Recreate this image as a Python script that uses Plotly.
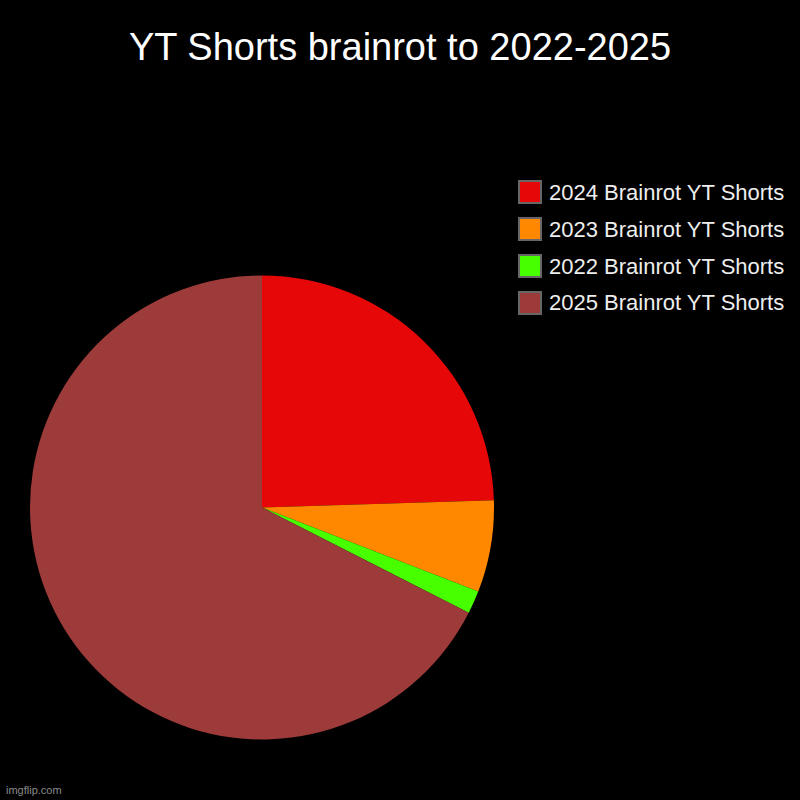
import plotly.graph_objects as go

# data (percent of the pie)
labels = ['2024 Brainrot YT Shorts', '2023 Brainrot YT Shorts',
          '2022 Brainrot YT Shorts', '2025 Brainrot YT Shorts']
values = [24.5, 6.4, 1.6, 67.5]
colors = ['#e60808', '#ff8800', '#48ff00', '#9d3a3a']

W, H = 800, 800


def px(x):
    return x / W


def py(y):
    return 1 - y / H


fig = go.Figure(go.Pie(
    labels=labels,
    values=values,
    marker=dict(colors=colors, line=dict(width=0)),
    sort=False,
    direction='clockwise',
    rotation=0,
    textinfo='none',
    hoverinfo='label+percent',
    showlegend=False,
    domain=dict(x=[px(30), px(494)], y=[py(740), py(275)]),
))

# legend drawn by hand so the swatches match the big bordered squares
shapes = []
annotations = []
for i, (lab, col) in enumerate(zip(labels, colors)):
    top = 181 + i * 37
    shapes.append(dict(type='rect', xref='paper', yref='paper',
                       x0=px(519), x1=px(541), y0=py(top + 22), y1=py(top),
                       fillcolor=col, line=dict(color='#666666', width=2)))
    annotations.append(dict(text=lab, xref='paper', yref='paper',
                            x=px(547), y=py(top + 11), xanchor='left', yanchor='middle',
                            showarrow=False,
                            font=dict(size=22, color='#eeeeee', family='Liberation Sans, Arial')))

annotations.append(dict(text='imgflip.com', xref='paper', yref='paper',
                        x=px(4), y=py(790), xanchor='left', yanchor='middle',
                        showarrow=False,
                        font=dict(size=11, color='#8a8a8a', family='Liberation Sans, Arial')))

fig.update_layout(
    width=W, height=H,
    paper_bgcolor='black', plot_bgcolor='black',
    margin=dict(l=0, r=0, t=0, b=0),
    title=dict(text='YT Shorts brainrot to 2022-2025', x=0.5, xanchor='center',
               y=py(47), yanchor='middle',
               font=dict(size=38, color='white', family='Liberation Sans, Arial')),
    shapes=shapes,
    annotations=annotations,
)

# page has a default body margin; drop it so the 800x800 figure fills the window
fig.write_html('out.html', config={'displayModeBar': False},
               post_script="document.body.style.margin='0';document.body.style.background='black';")
